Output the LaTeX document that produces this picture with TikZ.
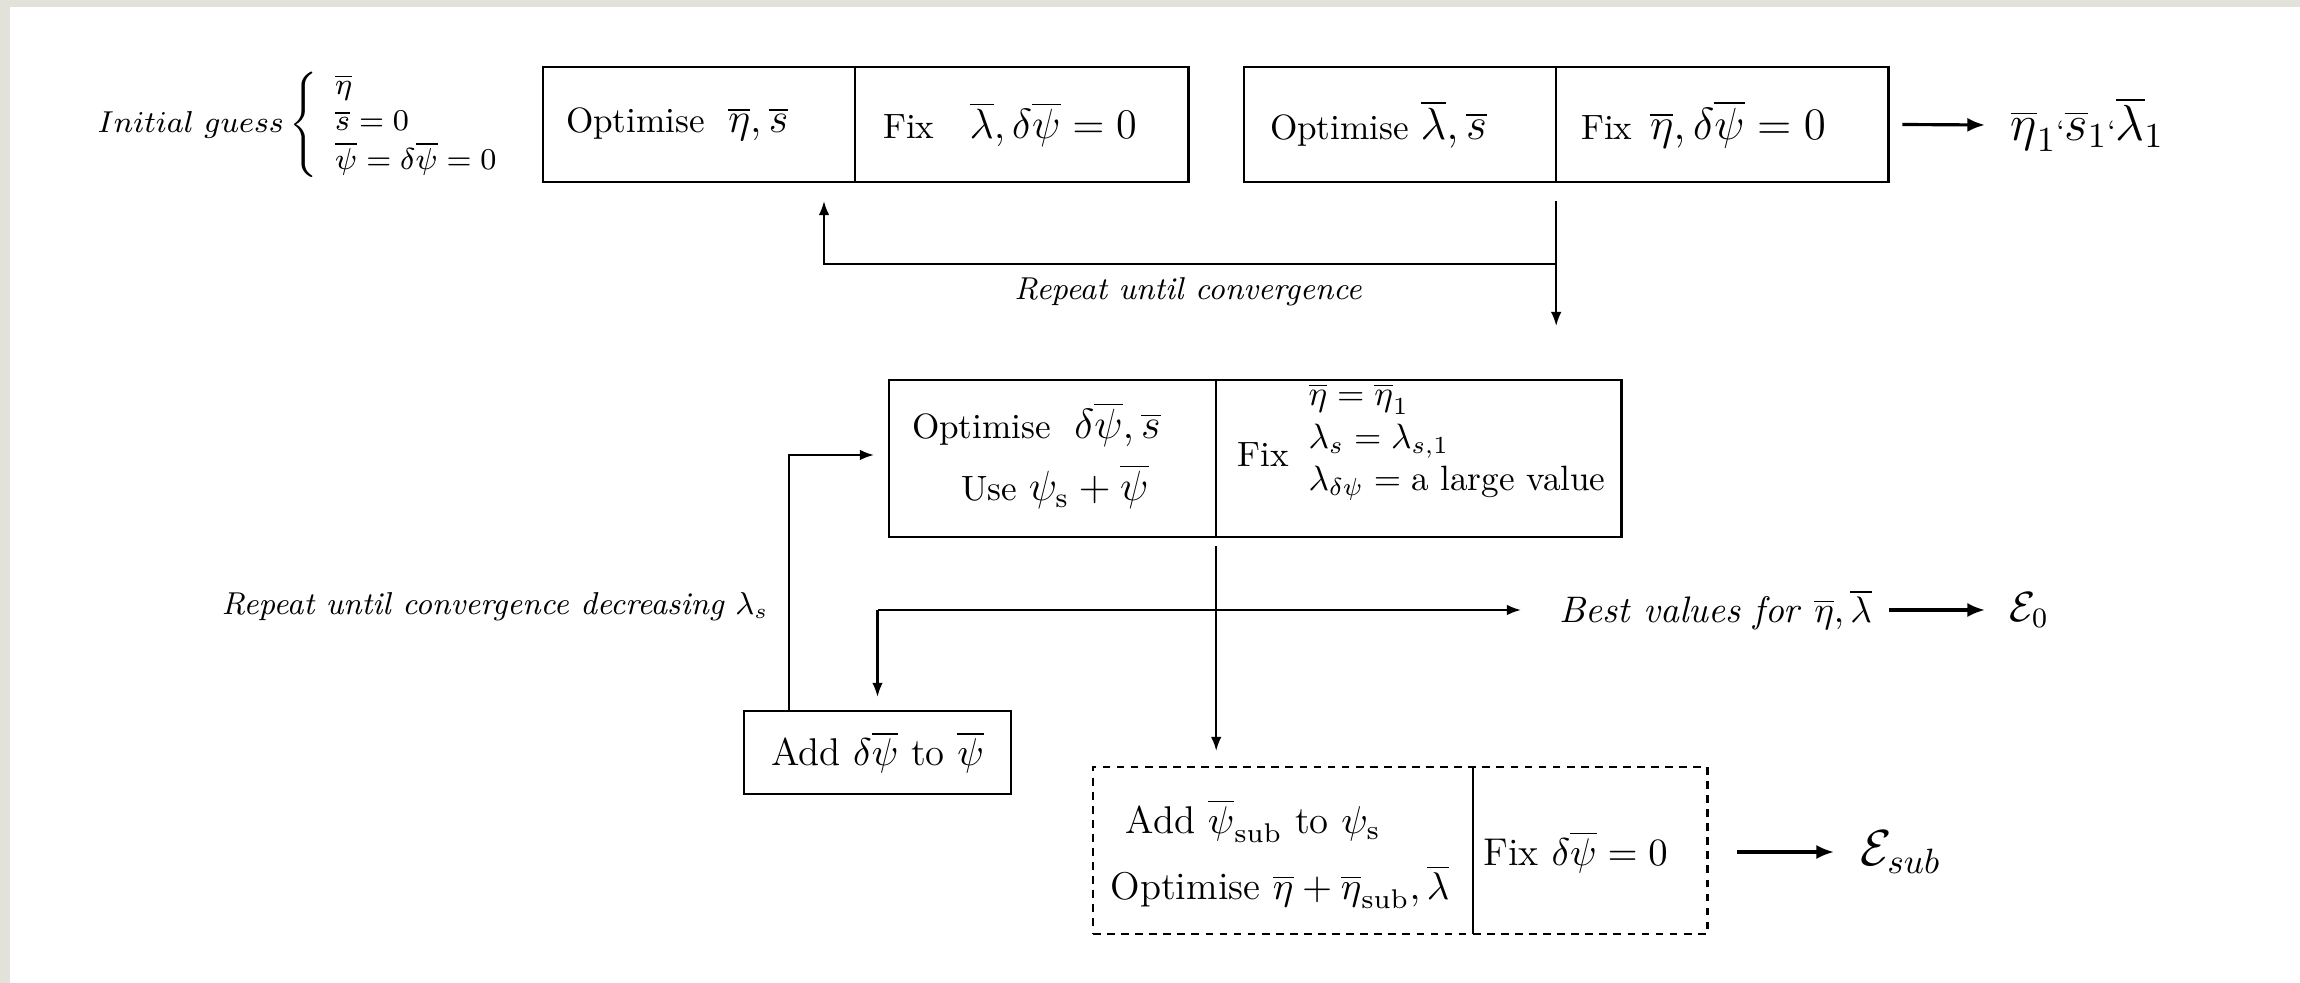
\RequirePackage{fix-cm}
\documentclass[tikz,border=0pt]{standalone}
\usetikzlibrary{arrows.meta,calc}
\definecolor{bord}{RGB}{226,226,219}
\tikzset{
  cell/.style={draw, line width=0.7pt, outer sep=0pt, minimum height=1.15cm, inner ysep=0pt, align=left, anchor=west},
  box/.style={draw, line width=0.7pt, outer sep=0pt, inner sep=0pt},
  arr/.style={line width=0.6pt, -{Latex[length=4pt,width=3pt]}},
  larr/.style={line width=0.9pt, -{Latex[length=5pt,width=4pt]}},
  lbl/.style={inner sep=0pt, anchor=west},
  fsmall/.style={font=\fontsize{9}{11}\selectfont\itshape},
  fmid/.style={font=\fontsize{11}{13}\selectfont},
}
\begin{document}
\begin{tikzpicture}[x=0.01cm,y=-0.01cm]
\fill[bord] (0,0) rectangle (2300,983);
\fill[white] (10,7) rectangle (2300,983);
\useasboundingbox (0,0) rectangle (2300,983);

% initial guess
\node[lbl, font=\fontsize{8.6}{10.5}\selectfont] (init) at (97,125) {$Initial\ guess \left\{\renewcommand\arraystretch{0.98}\begin{array}{l@{}}\overline{\eta}\\ \overline{s}=0\\ \overline{\psi}=\delta\overline{\psi}=0\end{array}\right.$};

% top boxes
\node[cell, minimum width=3.12cm, inner xsep=0.23cm, text width=2.66cm] (b1l) at (543,124.5) {Optimise\ \ {\large$\overline{\eta}, \overline{s}$}};
\node[cell, minimum width=3.33cm, inner xsep=0.28cm, text width=2.77cm] (b1r) at (b1l.east) {Fix\quad{\large$\overline{\lambda}, \delta\overline{\psi}=0$}};
\node[cell, minimum width=3.12cm, inner xsep=0.26cm, text width=2.60cm] (b2l) at (1244,124.5) {Optimise {\fontsize{12.8}{14}\selectfont$\overline{\lambda}, \overline{s}$}};
\node[cell, minimum width=3.32cm, inner xsep=0.25cm, text width=2.82cm] (b2r) at (b2l.east) {Fix\ \,{\fontsize{12.8}{14}\selectfont$\overline{\eta}, \delta\overline{\psi}=0$}};

\node[lbl] (res) at (2010,125) {\Large $\overline{\eta}_1${\footnotesize`}$\overline{s}_1${\footnotesize`}$\overline{\lambda}_1$};
\draw[larr] ($(b2r.east)+(14,0)$) -- ($(res.west)+(-25,0)$);

% feedback loop top
\coordinate (fbA) at ($(b2l.south east)+(0,19)$);
\coordinate (fbB) at ($(b2l.south east)+(0,144)$);
\coordinate (fbJ) at ($(b2l.south east)+(0,82)$);
\coordinate (fbC) at (824,201);
\coordinate (fbK) at (fbJ -| fbC);
\draw[arr] (fbA) -- (fbB);
\draw[arr] (fbJ) -- (fbK) -- (fbC);
\node[fsmall] (rep1) at (1188,292) {Repeat until convergence};

% middle box
\node[cell, minimum width=3.27cm, minimum height=1.57cm, align=left, inner xsep=0.23cm, text width=2.81cm] (ml) at (889,458.5) {Optimise\ \ {\large$\delta\overline{\psi}, \overline{s}$}\\[4pt] \hspace*{14pt}Use {\large$\psi_{\mathrm{s}}+\overline{\psi}$}\\[-8pt]\mbox{}};
\node[cell, minimum width=4.05cm, minimum height=1.57cm] (mr) at (ml.east) {};
\node[lbl] (fix2) at (1237,455) {Fix};
\node[lbl, align=left] (fixlist) at (1308,442) {$\overline{\eta}=\overline{\eta}_1$\\ $\lambda_s=\lambda_{s,1}$\\ $\lambda_{\delta\psi}=\mbox{a large value}$};

% add box
\node[box, fmid, minimum width=2.67cm, minimum height=0.83cm] (add) at (877.5,752.5) {Add $\delta\overline{\psi}$ to $\overline{\psi}$};

% dashed box
\node[box, dash pattern=on 2.2pt off 1.8pt, minimum width=6.14cm, minimum height=1.67cm, anchor=west] (dbox) at (1093,850.5) {};
\draw[line width=0.7pt] ($(dbox.north west)+(380,0)$) -- ($(dbox.south west)+(380,0)$);
\node[lbl, fmid] (sub1) at (1125,821) {Add $\overline{\psi}_{\mathrm{sub}}$ to $\psi_{\mathrm{s}}$};
\node[lbl, fmid] (sub2) at (1110,887) {Optimise $\overline{\eta}+\overline{\eta}_{\mathrm{sub}}, \overline{\lambda}$};
\node[lbl, fmid] (sub3) at (1483,852) {Fix $\delta\overline{\psi}=0$};
\node[lbl] (esub) at (1860,852) {\Large$\mathcal{E}_{sub}$};
\draw[larr] ($(esub.west)+(-123,0)$) -- ($(esub.west)+(-26,0)$);

% middle connectors
\coordinate (mA) at ($(ml.south east)+(0,9)$);
\coordinate (mB) at ($(mA |- dbox.north)+(0,-16)$);
\draw[arr] (mA) -- (mB);
\coordinate (hL) at (877.5,610);
\coordinate (hR) at (1521,610);
\draw[arr] (hL) -- (hR);
\draw[arr] (hL) -- ($(add.north)+(0,-14)$);

\node[lbl, font=\fontsize{10.5}{12.5}\selectfont] (best) at (1559,610) {\textit{Best values for} $\overline{\eta},\overline{\lambda}$};
\node[lbl] (e0) at (2009,610) {\large$\mathcal{E}_0$};
\draw[larr] ($(e0.west)+(-120,0)$) -- ($(e0.west)+(-24,0)$);

\coordinate (u1) at ($(add.north)+(-88.5,0)$);
\coordinate (u2) at (789,455);
\coordinate (u3) at (874,455);
\draw[arr] (u1) -- (u2) -- (u3);
\node[fsmall] (rep2) at (495,607) {Repeat until convergence decreasing $\lambda_s$};
\end{tikzpicture}
\end{document}
